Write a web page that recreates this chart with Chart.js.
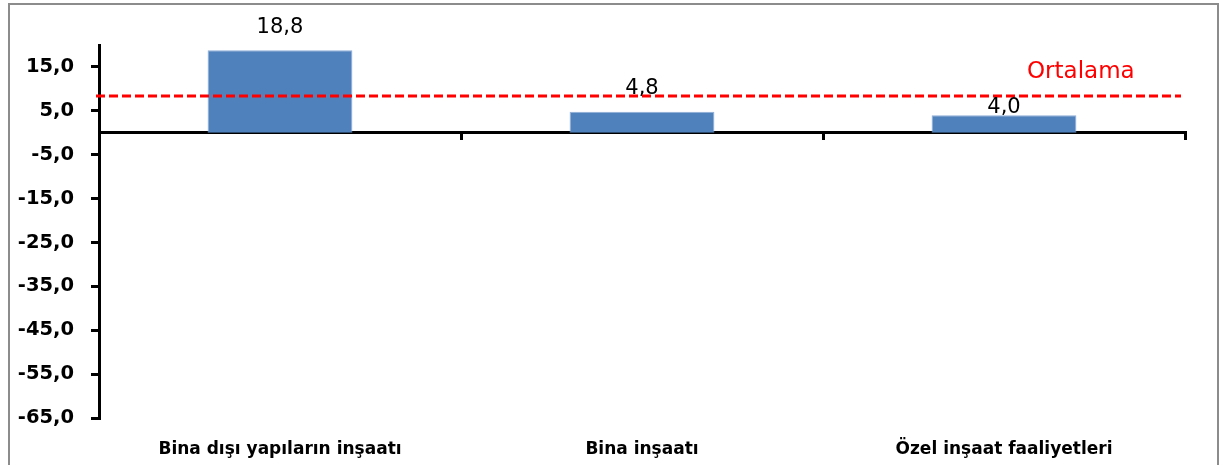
<!DOCTYPE html>
<html><head><meta charset="utf-8">
<script src="https://cdn.jsdelivr.net/npm/chart.js@4.4.1/dist/chart.umd.min.js"></script>
<style>
html,body{margin:0;padding:0;background:#fff;overflow:hidden}
#frame{position:absolute;left:8px;top:3px;width:1211px;height:480px;border:2px solid #8c8c8c;box-sizing:border-box}
#wrap{position:absolute;left:0;top:0;width:1219px;height:465px}
</style></head><body>
<div id="frame"></div>
<div id="wrap"><canvas id="c" width="1219" height="465"></canvas></div>
<script>
const categories = ['Bina dışı yapıların inşaatı', 'Bina inşaatı', 'Özel inşaat faaliyetleri'];
const values = [18.8, 4.8, 4.0];
const averageValue = 8.4;
const averageLabel = 'Ortalama';
const yTicks = [15, 5, -5, -15, -25, -35, -45, -55, -65];
const yMin = -65;
const yMax = 20;

// style: gap between bar top and its value label baseline
const labelGap = [17, 18, 2];

const fmt = v => v.toFixed(1).replace('.', ',');

const overlay = {
  id: 'overlay',
  afterDatasetsDraw(chart) {
    const ctx = chart.ctx, y = chart.scales.y, area = chart.chartArea;
    const meta = chart.getDatasetMeta(0);
    ctx.save();
    const ay = y.getPixelForValue(averageValue);
    ctx.strokeStyle = '#FF0000';
    ctx.lineWidth = 3;
    ctx.setLineDash([9, 4]);
    ctx.beginPath();
    ctx.moveTo(area.left - 3, ay);
    ctx.lineTo(area.right - 4, ay);
    ctx.stroke();
    ctx.setLineDash([]);
    ctx.fillStyle = '#FF0000';
    ctx.font = '23px "DejaVu Sans"';
    ctx.textAlign = 'left';
    ctx.textBaseline = 'alphabetic';
    ctx.fillText(averageLabel, area.right - 158, ay - 18);
    ctx.fillStyle = '#000';
    ctx.font = '21px "DejaVu Sans"';
    ctx.textAlign = 'center';
    meta.data.forEach((bar, i) => {
      ctx.fillText(fmt(values[i]), bar.x, bar.y - labelGap[i]);
    });
    ctx.restore();
  }
};

new Chart(document.getElementById('c'), {
  type: 'bar',
  data: {
    labels: categories,
    datasets: [{
      data: values,
      backgroundColor: '#4F81BD',
      borderColor: '#8FAED6',
      borderWidth: 1,
      xAxisID: 'x',
      yAxisID: 'y',
      categoryPercentage: 1,
      barPercentage: 0.4
    }]
  },
  options: {
    responsive: false,
    animation: false,
    devicePixelRatio: 1,
    layout: { padding: { top: 45, right: 34, left: 0, bottom: 0 } },
    plugins: { legend: { display: false }, tooltip: { enabled: false } },
    scales: {
      x: {
        type: 'category',
        position: { y: 0 },
        offset: true,
        z: 1,
        grid: { display: true, drawOnChartArea: false, drawTicks: true, tickLength: 6, color: '#000', lineWidth: 3, offset: true },
        border: { display: true, color: '#000', width: 3 },
        ticks: { display: false }
      },
      x2: {
        type: 'category',
        position: 'bottom',
        labels: categories,
        offset: true,
        grid: { display: false },
        border: { display: false },
        ticks: { color: '#000', font: { family: 'DejaVu Sans', size: 17, weight: 'bold' }, padding: 13, maxRotation: 0, autoSkip: false },
        afterFit(scale) { scale.height = 47; }
      },
      y: {
        type: 'linear',
        min: yMin,
        max: yMax,
        position: 'left',
        grid: { display: true, drawOnChartArea: false, drawTicks: true, tickLength: 8, color: '#000', lineWidth: 3 },
        border: { display: true, color: '#000', width: 3 },
        afterBuildTicks(scale) { scale.ticks = yTicks.map(v => ({ value: v })); },
        ticks: {
          color: '#000',
          padding: 17,
          font: { family: 'DejaVu Sans', size: 19.5, weight: 'bold' },
          callback: v => fmt(v)
        },
        afterFit(scale) { scale.width = 99; }
      }
    }
  },
  plugins: [overlay]
});
</script>
</body></html>
